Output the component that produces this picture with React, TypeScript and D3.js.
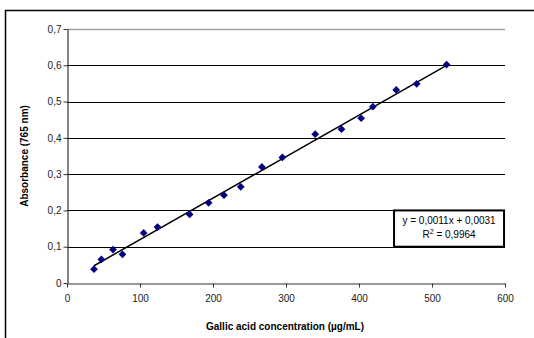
import React, { useEffect, useRef } from 'react';
import * as d3 from 'd3';

// Calibration points
const concentration = [37, 47, 63, 76, 105, 124, 168, 194, 215, 238, 267, 295, 340, 376, 403, 419, 451, 479, 520];
const absorbance = [0.038, 0.065, 0.092, 0.079, 0.138, 0.154, 0.189, 0.221, 0.242, 0.265, 0.32, 0.346, 0.41, 0.424, 0.454, 0.486, 0.532, 0.549, 0.602];
const xTicks = [0, 100, 200, 300, 400, 500, 600];
const yTicks = [0, 0.1, 0.2, 0.3, 0.4, 0.5, 0.6, 0.7];
const equationText = 'y = 0,0011x + 0,0031';
const r2Text = '0,9964';

const WIDTH = 534;
const HEIGHT = 338;
const FONT = 'Arial, "Liberation Sans", sans-serif';

const comma = (v: number) => String(v).replace('.', ',');

const Chart: React.FC = () => {
  const svgRef = useRef<SVGSVGElement>(null);

  useEffect(() => {
    if (!svgRef.current) return;
    const svg = d3.select(svgRef.current);
    svg.selectAll('*').remove();

    const margin = { top: 29, right: 29, bottom: 55, left: 67 };
    const innerWidth = WIDTH - margin.left - margin.right;
    const innerHeight = HEIGHT - margin.top - margin.bottom;

    // Outer chart frame (runs off the bottom/right of the picture)
    svg.append('rect')
      .attr('x', 5.5).attr('y', 10.5)
      .attr('width', WIDTH + 10).attr('height', HEIGHT + 10)
      .attr('fill', 'white').attr('stroke', '#000').attr('stroke-width', 1.5);

    const g = svg.append('g').attr('transform', `translate(${margin.left},${margin.top})`);

    const xScale = d3.scaleLinear().domain([0, 600]).range([0, innerWidth]);
    const yScale = d3.scaleLinear().domain([0, 0.7]).range([innerHeight, 0]);

    // Gridlines
    g.append('g')
      .selectAll('line')
      .data(yTicks.slice(1, -1))
      .join('line')
      .attr('x1', 0).attr('x2', innerWidth)
      .attr('y1', d => Math.round(yScale(d)) + 0.5)
      .attr('y2', d => Math.round(yScale(d)) + 0.5)
      .attr('stroke', '#000').attr('stroke-width', 1);

    // Plot area top border
    g.append('line')
      .attr('x1', 0).attr('x2', innerWidth)
      .attr('y1', 0.5).attr('y2', 0.5)
      .attr('stroke', '#a0a0a0').attr('stroke-width', 1.5);

    // Axes
    const xAxis = g.append('g')
      .attr('transform', `translate(0,${innerHeight + 0.5})`)
      .call(d3.axisBottom(xScale).tickValues(xTicks).tickSize(4).tickSizeOuter(0).tickFormat(d => String(d)));
    const yAxis = g.append('g')
      .attr('transform', 'translate(0.5,0)')
      .call(d3.axisLeft(yScale).tickValues(yTicks).tickSize(4).tickSizeOuter(0).tickFormat(d => comma(+d)));

    [xAxis, yAxis].forEach(ax => {
      ax.select('.domain').attr('stroke', '#333').attr('stroke-width', 1.2);
      ax.selectAll('.tick line').attr('stroke', '#333');
      ax.selectAll('.tick text')
        .attr('font-family', FONT).attr('font-size', 10).attr('fill', '#222');
    });
    xAxis.selectAll('.tick text').attr('dy', '1.15em');
    yAxis.selectAll('.tick text').attr('x', -6);

    // Linear trendline (least squares)
    const mx = d3.mean(concentration) || 0;
    const my = d3.mean(absorbance) || 0;
    let sxy = 0, sxx = 0;
    concentration.forEach((x, i) => {
      sxy += (x - mx) * (absorbance[i] - my);
      sxx += (x - mx) * (x - mx);
    });
    const slope = sxy / sxx;
    const intercept = my - slope * mx;
    const xMin = d3.min(concentration) || 0;
    const xMax = d3.max(concentration) || 0;
    g.append('line')
      .attr('x1', xScale(xMin)).attr('y1', yScale(slope * xMin + intercept))
      .attr('x2', xScale(xMax)).attr('y2', yScale(slope * xMax + intercept))
      .attr('stroke', '#000').attr('stroke-width', 1.5);

    // Diamond markers
    const diamond = d3.symbol().type(d3.symbolDiamond2).size(38);
    g.selectAll('.pt')
      .data(concentration.map((x, i) => ({ x, y: absorbance[i] })))
      .join('path')
      .attr('class', 'pt')
      .attr('d', diamond)
      .attr('transform', d => `translate(${xScale(d.x)},${yScale(d.y)})`)
      .attr('fill', '#000080');

    // Equation box
    const boxX = xScale(448), boxW = 110;
    const boxY = yScale(0.2), boxH = yScale(0.1) - yScale(0.2);
    const cx = boxX + boxW / 2;
    g.append('rect')
      .attr('x', boxX).attr('y', boxY)
      .attr('width', boxW).attr('height', boxH)
      .attr('fill', 'white').attr('stroke', '#000').attr('stroke-width', 2);
    g.append('text')
      .attr('x', cx).attr('y', boxY + 14)
      .attr('text-anchor', 'middle')
      .attr('font-family', FONT).attr('font-size', 10).attr('fill', '#000')
      .text(equationText);
    const r2 = g.append('text')
      .attr('x', cx).attr('y', boxY + 28)
      .attr('text-anchor', 'middle')
      .attr('font-family', FONT).attr('font-size', 10).attr('fill', '#000');
    r2.append('tspan').text('R');
    r2.append('tspan').attr('font-size', 7).attr('dy', -4).text('2');
    r2.append('tspan').attr('dy', 4).text(` = ${r2Text}`);

    // Axis titles
    svg.append('text')
      .attr('x', margin.left + innerWidth / 2 - 1)
      .attr('y', 330)
      .attr('text-anchor', 'middle')
      .attr('font-family', FONT).attr('font-size', 10).attr('font-weight', 'bold')
      .text('Gallic acid concentration (µg/mL)');
    svg.append('text')
      .attr('transform', `translate(28,${margin.top + innerHeight / 2}) rotate(-90)`)
      .attr('text-anchor', 'middle')
      .attr('font-family', FONT).attr('font-size', 10).attr('font-weight', 'bold')
      .text('Absorbance (765 nm)');
  }, []);

  return <svg ref={svgRef} width={WIDTH} height={HEIGHT} style={{ display: 'block' }} />;
};

export default function App() {
  return (
    <div style={{ position: 'fixed', left: 0, top: 0, background: 'white' }}>
      <Chart />
    </div>
  );
}
